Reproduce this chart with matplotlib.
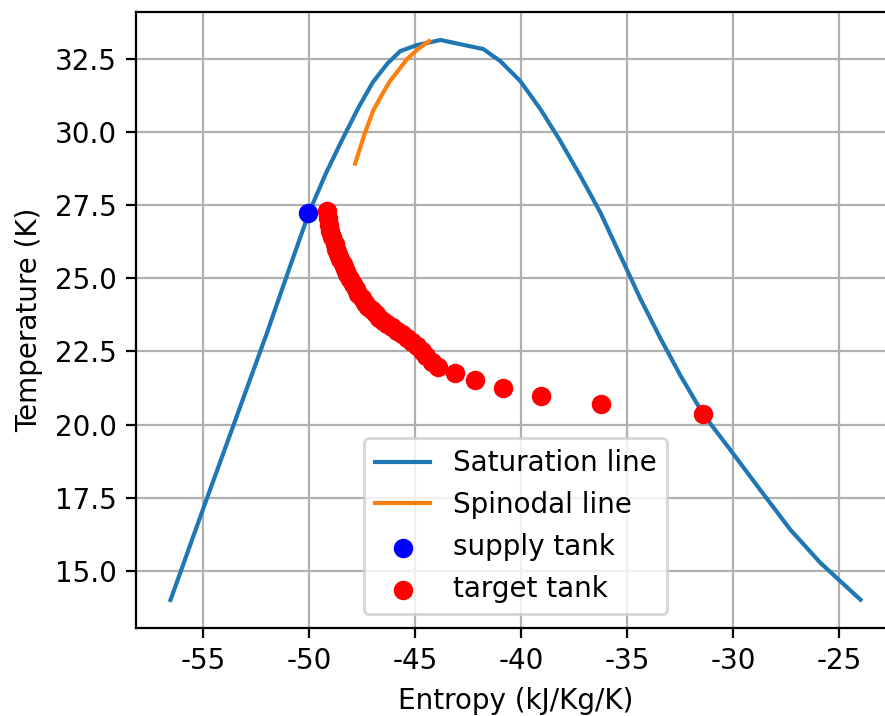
# Temperature - entropy diagram: saturation dome, spinodal and tank states

# Load Library
import matplotlib.pyplot as plt

plt.rcParams['axes.unicode_minus'] = False

# Saturation line (liquid branch -> critical point -> vapour branch)
sat_s = [-56.53, -55.0, -53.5, -52.0, -50.9, -50.0, -49.2, -48.5, -47.7, -47.0,
         -46.3, -45.7, -44.9, -43.8, -41.79, -40.99, -40.05, -39.10, -38.16, -37.22,
         -36.27, -35.33, -34.39, -33.44, -32.50, -31.42, -30.14, -28.73, -27.31, -25.90,
         -24.01]
sat_T = [14.0, 17.1, 20.1, 23.1, 25.4, 27.25, 28.6, 29.65, 30.8, 31.7,
         32.35, 32.77, 32.98, 33.15, 32.84, 32.43, 31.75, 30.79, 29.70, 28.51,
         27.25, 25.78, 24.31, 22.95, 21.68, 20.35, 19.13, 17.76, 16.40, 15.27,
         14.01]

# Spinodal line
spin_s = [-47.83, -47.4, -46.98, -46.55, -46.18, -45.75, -45.38, -44.85, -44.34]
spin_T = [28.92, 29.9, 30.73, 31.3, 31.75, 32.15, 32.5, 32.85, 33.11]

# Supply tank state
supply_s = [-50.03]
supply_T = [27.25]

# Target tank states
target_s = [-49.17, -49.12, -49.06, -49.00, -48.90, -48.80, -48.71, -48.62, -48.52, -48.42,
            -48.32, -48.22, -48.08, -47.94, -47.80, -47.67, -47.52, -47.36, -47.20, -47.04,
            -46.86, -46.68, -46.51, -46.34, -46.10, -45.86, -45.62, -45.39, -45.15, -44.92,
            -44.70, -44.50, -44.20, -43.90, -43.11, -42.17, -40.85, -39.06, -36.23, -31.42]
target_T = [27.30, 27.05, 26.82, 26.63, 26.40, 26.18, 26.00, 25.84, 25.66, 25.49,
            25.32, 25.15, 24.97, 24.80, 24.63, 24.47, 24.32, 24.17, 24.03, 23.90,
            23.78, 23.66, 23.55, 23.45, 23.33, 23.21, 23.10, 22.95, 22.82, 22.68,
            22.52, 22.35, 22.15, 21.98, 21.75, 21.51, 21.24, 20.97, 20.70, 20.35]

# Plot
dpi = 200
plt.figure(figsize=(885 / dpi, 716 / dpi), dpi=dpi)
ax = plt.axes([136 / 885, 88 / 716, 759 / 885, 616 / 716])
plt.plot(sat_s, sat_T, label='Saturation line')
plt.plot(spin_s, spin_T, label='Spinodal line')
plt.scatter(supply_s, supply_T, color='b', label='supply tank', zorder=3)
plt.scatter(target_s, target_T, color='r', label='target tank', zorder=3)
plt.xlabel('Entropy (kJ/Kg/K)')
plt.ylabel('Temperature (K)')
plt.grid()
plt.legend(loc='lower center')
ax.spines['right'].set_visible(False)
plt.savefig('out.png', dpi=dpi)
